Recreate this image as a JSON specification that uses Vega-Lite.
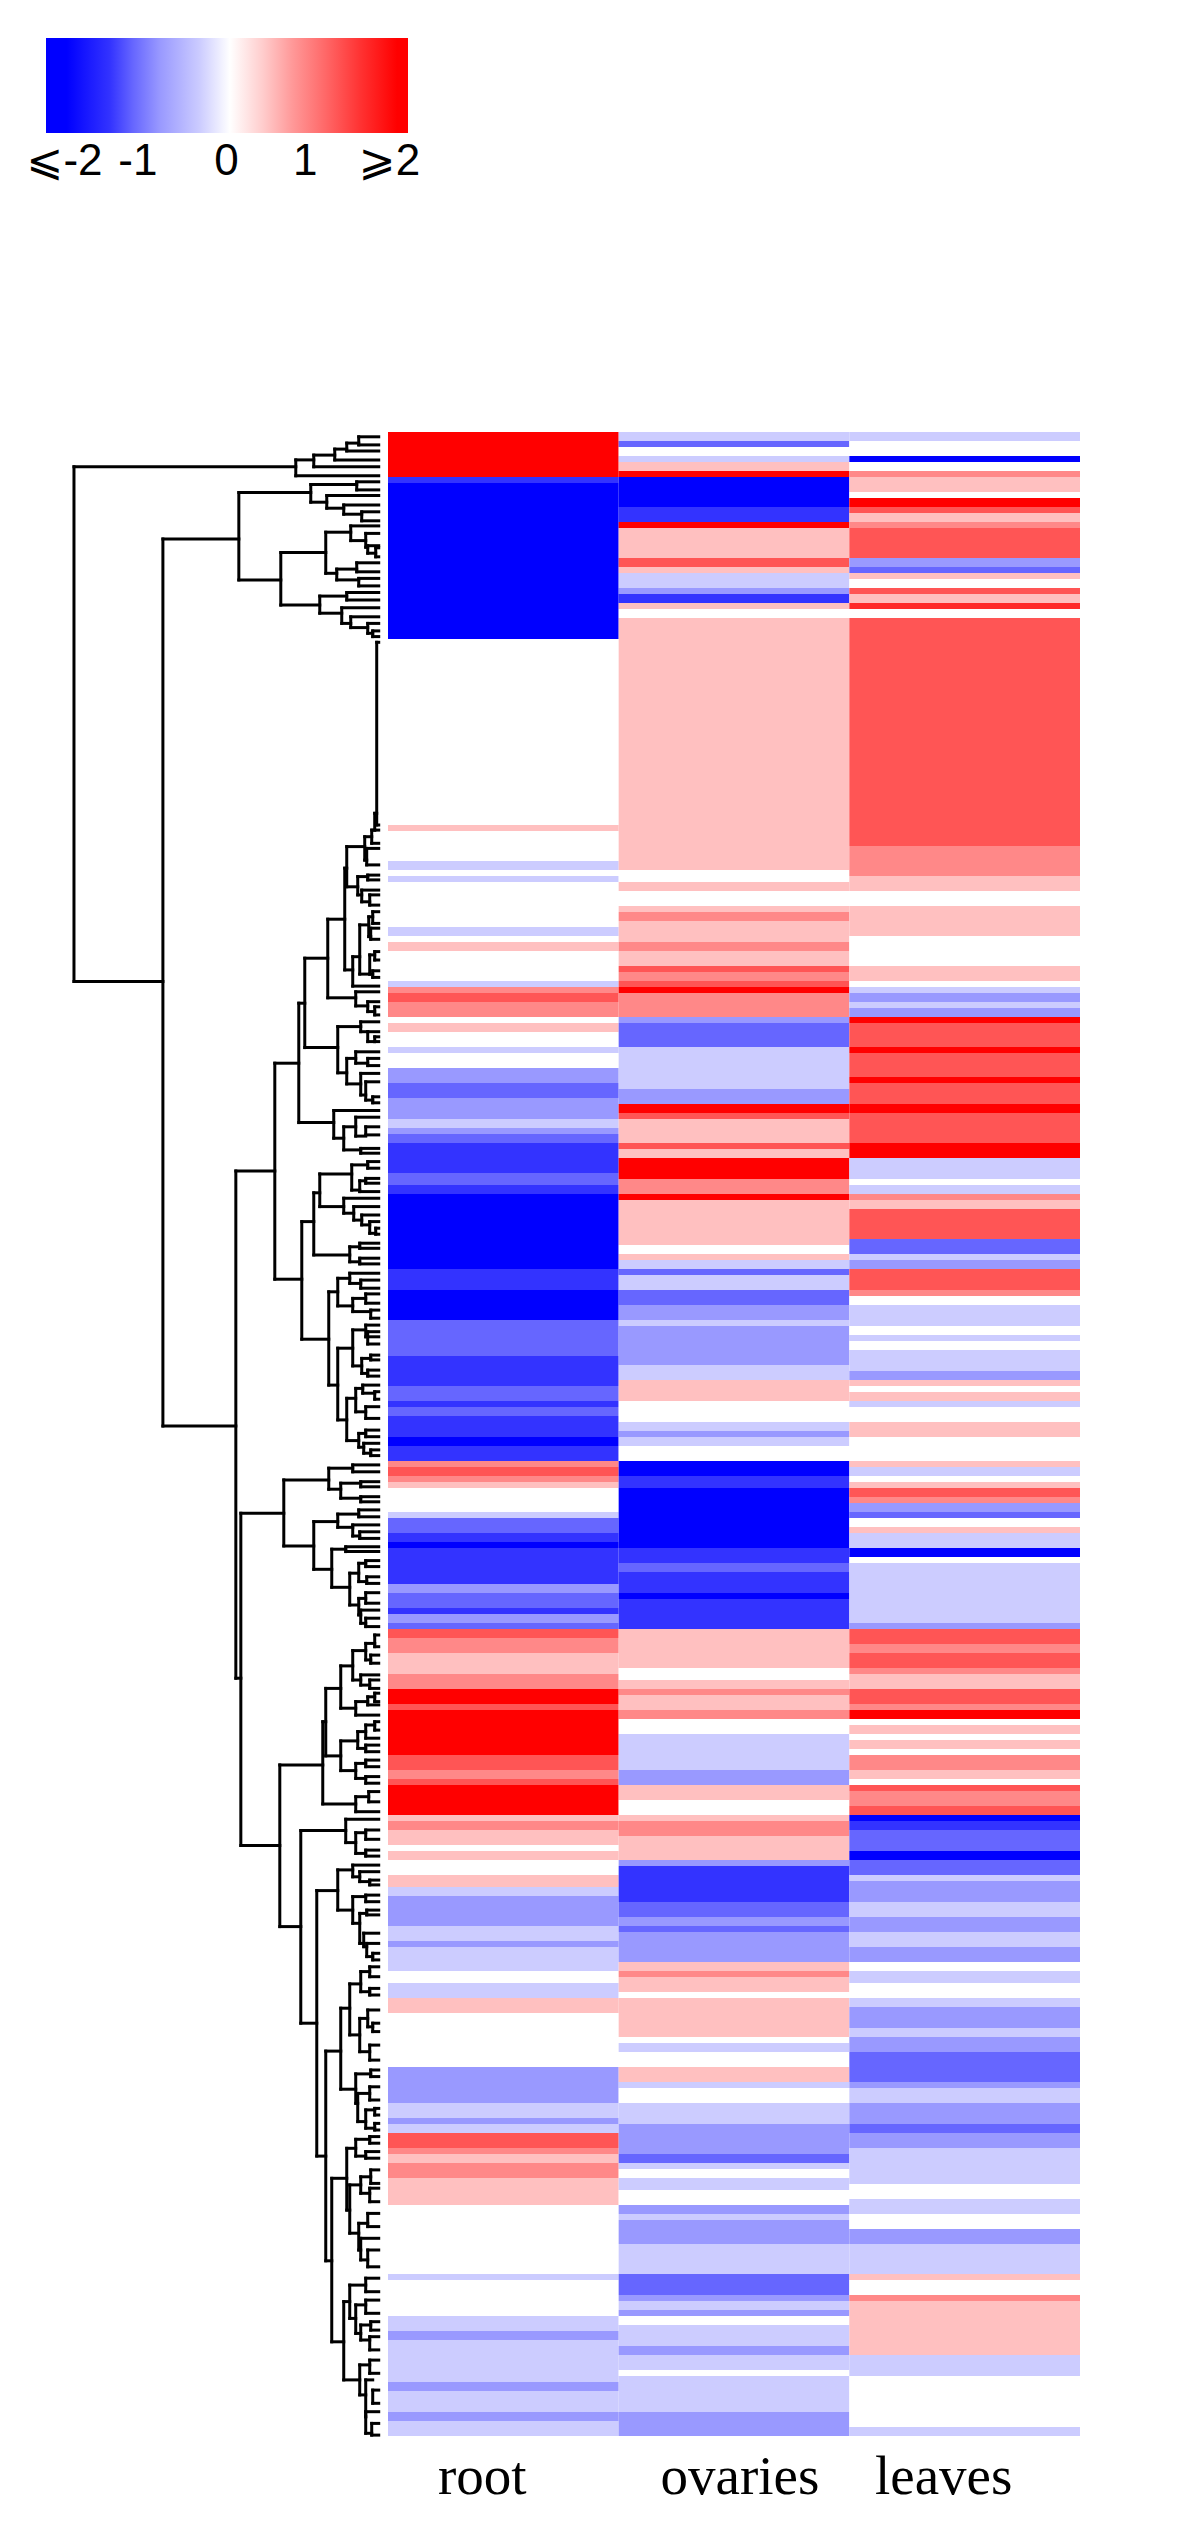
{"$schema":"https://vega.github.io/schema/vega-lite/v6.json","background":"white","padding":{"left":26,"top":38,"right":106,"bottom":20},"autosize":{"type":"pad"},"config":{"view":{"stroke":null}},"bounds":"flush","spacing":299,"vconcat":[{"width":362,"height":95,"data":{"values":[{"low":-2,"high":2}]},"mark":{"type":"rect","fill":{"gradient":"linear","x1":0,"x2":1,"y1":0,"y2":0,"stops":[{"offset":0,"color":"#0000ff"},{"offset":0.057,"color":"#0000ff"},{"offset":0.177,"color":"#3333ff"},{"offset":0.24,"color":"#6666ff"},{"offset":0.315,"color":"#9999ff"},{"offset":0.425,"color":"#ccccff"},{"offset":0.508,"color":"#ffffff"},{"offset":0.6,"color":"#ffcccc"},{"offset":0.68,"color":"#ff9999"},{"offset":0.775,"color":"#ff6666"},{"offset":0.867,"color":"#ff3333"},{"offset":0.97,"color":"#ff0000"},{"offset":1,"color":"#ff0000"}]}},"encoding":{"x":{"field":"low","type":"quantitative","scale":{"domain":[-2,2],"nice":false},"axis":{"title":null,"domain":false,"ticks":false,"grid":false,"values":[-1.8,-0.99,-0.01,0.86,1.79],"labelExpr":"datum.value<-1.5?'⩽-2':datum.value<-0.5?'-1':datum.value<0.5?'0':datum.value<1.5?'1':'⩾2'","labelFont":"Liberation Sans, DejaVu Sans","labelFontSize":44,"labelColor":"#000000","labelPadding":6,"labelFlush":false,"labelOverlap":false,"labelBound":false}},"x2":{"field":"high"}}},{"bounds":"flush","spacing":0,"hconcat":[{"width":342,"height":2004,"data":{"name":"tree","values":[{"d":305,"ra":11.6,"rb":183.2,"da":83,"db":216},{"d":216,"ra":35.7,"rb":331.3,"da":140,"db":143},{"d":83,"ra":9.3,"rb":14.6,"da":65,"db":0},{"d":65,"ra":7.7,"rb":11.6,"da":44,"db":0},{"d":44,"ra":5.7,"rb":9.3,"da":32,"db":0},{"d":32,"ra":3.7,"rb":6.3,"da":20,"db":0},{"d":20,"ra":1.6,"rb":4.3,"da":0,"db":0},{"d":140,"ra":20.2,"rb":49.3,"da":68,"db":98},{"d":68,"ra":17.5,"rb":23.4,"da":22,"db":52},{"d":22,"ra":16.6,"rb":19.3,"da":0,"db":0},{"d":52,"ra":21.2,"rb":25.4,"da":0,"db":35},{"d":35,"ra":24.3,"rb":27.4,"da":0,"db":17},{"d":17,"ra":26.6,"rb":29.6,"da":0,"db":0},{"d":98,"ra":40.2,"rb":57.7,"da":53,"db":59},{"d":53,"ra":33.4,"rb":47.1,"da":28,"db":42},{"d":28,"ra":31.3,"rb":36.2,"da":0,"db":13},{"d":13,"ra":33.8,"rb":38.4,"da":0,"db":11},{"d":11,"ra":37.9,"rb":40.4,"da":0,"db":3},{"d":3,"ra":38.6,"rb":41.6,"da":0,"db":0},{"d":42,"ra":45.7,"rb":49.3,"da":22,"db":20},{"d":22,"ra":43.6,"rb":46.6,"da":0,"db":0},{"d":20,"ra":48.8,"rb":51.3,"da":0,"db":0},{"d":59,"ra":54.7,"rb":60.4,"da":32,"db":37},{"d":32,"ra":53.5,"rb":56,"da":0,"db":0},{"d":37,"ra":58.6,"rb":63.8,"da":0,"db":28},{"d":28,"ra":61.6,"rb":65.2,"da":0,"db":11},{"d":11,"ra":63.8,"rb":67.1,"da":0,"db":6},{"d":6,"ra":66.3,"rb":68.2,"da":0,"db":0},{"d":2,"ra":70.1,"rb":131,"da":0,"db":0},{"d":4,"ra":127.1,"rb":132.7,"da":2,"db":0},{"d":7,"ra":132.7,"rb":137.1,"da":4,"db":0},{"d":14,"ra":134.9,"rb":142.7,"da":7,"db":12},{"d":12,"ra":138.8,"rb":144.3,"da":0,"db":0},{"d":32,"ra":138.2,"rb":151.6,"da":14,"db":21},{"d":21,"ra":148.2,"rb":154.3,"da":11,"db":17},{"d":11,"ra":147.7,"rb":149.3,"da":0,"db":0},{"d":17,"ra":152.7,"rb":156.6,"da":0,"db":9},{"d":9,"ra":154.3,"rb":157.7,"da":0,"db":0},{"d":34,"ra":145.4,"rb":179.3,"da":32,"db":26},{"d":51,"ra":162.4,"rb":188.6,"da":34,"db":23},{"d":26,"ra":174.9,"rb":184.7,"da":19,"db":0},{"d":19,"ra":164.3,"rb":180.7,"da":10,"db":9},{"d":10,"ra":161.6,"rb":168.2,"da":6,"db":8},{"d":6,"ra":159.9,"rb":163.8,"da":0,"db":0},{"d":8,"ra":165.4,"rb":169.1,"da":0,"db":0},{"d":9,"ra":174.3,"rb":180.7,"da":4,"db":6},{"d":4,"ra":173.2,"rb":176,"da":0,"db":0},{"d":6,"ra":179.6,"rb":181.8,"da":0,"db":0},{"d":23,"ra":186.6,"rb":191.3,"da":0,"db":11},{"d":11,"ra":189.9,"rb":193.2,"da":0,"db":4},{"d":4,"ra":191.6,"rb":194.3,"da":0,"db":0},{"d":74,"ra":175.4,"rb":205.2,"da":51,"db":41},{"d":41,"ra":198.2,"rb":213.6,"da":18,"db":32},{"d":18,"ra":196.6,"rb":199.9,"da":0,"db":11},{"d":11,"ra":199.9,"rb":203.2,"da":0,"db":4},{"d":4,"ra":201.6,"rb":203.2,"da":0,"db":0},{"d":32,"ra":208.8,"rb":217.3,"da":23,"db":18},{"d":23,"ra":206.6,"rb":210.4,"da":0,"db":11},{"d":11,"ra":208.8,"rb":211.2,"da":0,"db":0},{"d":18,"ra":213.8,"rb":221,"da":0,"db":13},{"d":13,"ra":216.6,"rb":222.7,"da":0,"db":6},{"d":6,"ra":221.6,"rb":223.6,"da":0,"db":0},{"d":80,"ra":190.4,"rb":230.2,"da":74,"db":45},{"d":45,"ra":226.2,"rb":235.4,"da":0,"db":35},{"d":35,"ra":231.6,"rb":239.3,"da":23,"db":18},{"d":23,"ra":228.4,"rb":234.7,"da":0,"db":13},{"d":13,"ra":231.6,"rb":234.3,"da":0,"db":0},{"d":18,"ra":238.8,"rb":240.4,"da":0,"db":0},{"d":104,"ra":210.4,"rb":282.4,"da":80,"db":77},{"d":143,"ra":246.3,"rb":415.4,"da":104,"db":138},{"d":77,"ra":263.2,"rb":302.4,"da":65,"db":50},{"d":65,"ra":253.6,"rb":274.3,"da":59,"db":29},{"d":59,"ra":247.3,"rb":258.2,"da":27,"db":35},{"d":27,"ra":244.3,"rb":252.7,"da":11,"db":19},{"d":11,"ra":243.2,"rb":245.4,"da":0,"db":0},{"d":19,"ra":249.6,"rb":253.2,"da":13,"db":0},{"d":13,"ra":248.8,"rb":250.4,"da":0,"db":0},{"d":35,"ra":255.4,"rb":260.4,"da":0,"db":25},{"d":25,"ra":258.2,"rb":262.7,"da":0,"db":17},{"d":17,"ra":261,"rb":264.3,"da":0,"db":9},{"d":9,"ra":263.2,"rb":267.1,"da":0,"db":3},{"d":3,"ra":265.4,"rb":267.4,"da":0,"db":0},{"d":29,"ra":271.6,"rb":276.6,"da":19,"db":19},{"d":19,"ra":270.4,"rb":272.1,"da":0,"db":0},{"d":19,"ra":275.4,"rb":277.3,"da":0,"db":0},{"d":50,"ra":286.6,"rb":317.7,"da":41,"db":41},{"d":41,"ra":282.1,"rb":291.3,"da":29,"db":26},{"d":29,"ra":280.4,"rb":283.8,"da":0,"db":18},{"d":18,"ra":282.7,"rb":285.4,"da":0,"db":0},{"d":26,"ra":288.8,"rb":293.2,"da":13,"db":8},{"d":13,"ra":287.3,"rb":290.4,"da":0,"db":0},{"d":8,"ra":292.7,"rb":295.4,"da":0,"db":0},{"d":41,"ra":305.4,"rb":329.3,"da":26,"db":32},{"d":26,"ra":299.3,"rb":311.3,"da":13,"db":17},{"d":13,"ra":297.7,"rb":301.6,"da":0,"db":0},{"d":11,"ra":299.9,"rb":304,"da":0,"db":0},{"d":17,"ra":308.8,"rb":313.8,"da":8,"db":11},{"d":8,"ra":307.7,"rb":309.3,"da":0,"db":0},{"d":11,"ra":312.7,"rb":314.7,"da":0,"db":0},{"d":32,"ra":322.1,"rb":336.2,"da":23,"db":20},{"d":23,"ra":318.8,"rb":326.6,"da":16,"db":13},{"d":16,"ra":317.7,"rb":320.4,"da":0,"db":4},{"d":4,"ra":319.9,"rb":322.4,"da":0,"db":0},{"d":13,"ra":324.9,"rb":328.8,"da":0,"db":0},{"d":20,"ra":333.8,"rb":338.4,"da":13,"db":15},{"d":13,"ra":332.7,"rb":334.9,"da":0,"db":0},{"d":15,"ra":337.1,"rb":340.4,"da":0,"db":8},{"d":8,"ra":339.3,"rb":341.2,"da":0,"db":0},{"d":95,"ra":349.3,"rb":371.3,"da":50,"db":65},{"d":50,"ra":345.4,"rb":352.4,"da":26,"db":38},{"d":26,"ra":344.3,"rb":346.6,"da":0,"db":0},{"d":38,"ra":350.4,"rb":355.4,"da":18,"db":18},{"d":18,"ra":349.9,"rb":351.6,"da":0,"db":0},{"d":18,"ra":354.9,"rb":356.6,"da":0,"db":0},{"d":65,"ra":363.2,"rb":379.1,"da":41,"db":47},{"d":41,"ra":360.7,"rb":365.1,"da":20,"db":26},{"d":20,"ra":359.3,"rb":361.6,"da":0,"db":0},{"d":26,"ra":364.3,"rb":368,"da":0,"db":19},{"d":19,"ra":366.6,"rb":368.8,"da":0,"db":0},{"d":47,"ra":372.4,"rb":385.1,"da":33,"db":29},{"d":33,"ra":371.6,"rb":373.2,"da":0,"db":0},{"d":29,"ra":380.4,"rb":391,"da":20,"db":20},{"d":20,"ra":377.1,"rb":383.2,"da":13,"db":12},{"d":13,"ra":376.2,"rb":378.2,"da":0,"db":0},{"d":12,"ra":381.6,"rb":383.8,"da":0,"db":0},{"d":20,"ra":388.8,"rb":394.3,"da":13,"db":18},{"d":13,"ra":386.9,"rb":390.4,"da":0,"db":0},{"d":18,"ra":392.7,"rb":397.1,"da":0,"db":13},{"d":13,"ra":395.4,"rb":398.2,"da":0,"db":0},{"d":138,"ra":360.4,"rb":471.2,"da":95,"db":99},{"d":38,"ra":411.3,"rb":425.4,"da":26,"db":23},{"d":26,"ra":406.2,"rb":416,"da":13,"db":18},{"d":13,"ra":403.8,"rb":409.3,"da":4,"db":8},{"d":4,"ra":401,"rb":404.9,"da":0,"db":0},{"d":8,"ra":407.7,"rb":410.4,"da":0,"db":0},{"d":18,"ra":414.3,"rb":417.7,"da":0,"db":9},{"d":9,"ra":416,"rb":418.8,"da":0,"db":0},{"d":23,"ra":423.2,"rb":427.7,"da":11,"db":0},{"d":11,"ra":421.6,"rb":424.3,"da":4,"db":0},{"d":4,"ra":420.4,"rb":423.2,"da":0,"db":0},{"d":38,"ra":436.3,"rb":446.2,"da":21,"db":23},{"d":21,"ra":433.2,"rb":438.8,"da":13,"db":13},{"d":13,"ra":431,"rb":435.4,"da":4,"db":0},{"d":4,"ra":429.9,"rb":432.7,"da":0,"db":0},{"d":13,"ra":437.7,"rb":439.9,"da":0,"db":0},{"d":23,"ra":443.8,"rb":448.8,"da":13,"db":13},{"d":13,"ra":442.7,"rb":444.9,"da":0,"db":0},{"d":13,"ra":448.2,"rb":450.4,"da":0,"db":0},{"d":53,"ra":418.8,"rb":441.3,"da":38,"db":38},{"d":56,"ra":429.9,"rb":457.3,"da":53,"db":23},{"d":23,"ra":454.9,"rb":459.9,"da":10,"db":0},{"d":10,"ra":453.2,"rb":456.6,"da":0,"db":0},{"d":99,"ra":444.3,"rb":498.2,"da":56,"db":78},{"d":78,"ra":466.2,"rb":530.4,"da":33,"db":62},{"d":33,"ra":462.4,"rb":470.2,"da":0,"db":23},{"d":23,"ra":466.9,"rb":473.8,"da":13,"db":13},{"d":13,"ra":466,"rb":469.1,"da":0,"db":0},{"d":13,"ra":472.7,"rb":474.7,"da":0,"db":0},{"d":62,"ra":486.2,"rb":574.7,"da":41,"db":53},{"d":41,"ra":479.3,"rb":492.7,"da":26,"db":26},{"d":26,"ra":477.7,"rb":481.6,"da":0,"db":19},{"d":19,"ra":479.9,"rb":483.2,"da":0,"db":9},{"d":9,"ra":482.7,"rb":484.3,"da":0,"db":0},{"d":26,"ra":488.2,"rb":497.1,"da":13,"db":19},{"d":13,"ra":487.7,"rb":489.9,"da":0,"db":0},{"d":19,"ra":493.8,"rb":503.8,"da":12,"db":15},{"d":12,"ra":492.7,"rb":494.3,"da":0,"db":0},{"d":15,"ra":500.4,"rb":504.9,"da":0,"db":12},{"d":12,"ra":503.8,"rb":508.2,"da":0,"db":6},{"d":6,"ra":507.1,"rb":509.3,"da":0,"db":0},{"d":38,"ra":525.4,"rb":552.4,"da":29,"db":23},{"d":29,"ra":517.3,"rb":534.3,"da":18,"db":19},{"d":18,"ra":513.2,"rb":519.9,"da":9,"db":9},{"d":9,"ra":511.6,"rb":514.9,"da":0,"db":0},{"d":9,"ra":518.8,"rb":521,"da":0,"db":0},{"d":19,"ra":528.8,"rb":539.9,"da":11,"db":9},{"d":11,"ra":526,"rb":531.6,"da":0,"db":6},{"d":6,"ra":530.4,"rb":533.2,"da":0,"db":0},{"d":9,"ra":537.7,"rb":542.7,"da":0,"db":0},{"d":53,"ra":539.7,"rb":609.6,"da":38,"db":47},{"d":23,"ra":547.3,"rb":557.1,"da":8,"db":21},{"d":8,"ra":546,"rb":548.2,"da":0,"db":0},{"d":21,"ra":553.8,"rb":563.2,"da":9,"db":13},{"d":9,"ra":551.6,"rb":556,"da":0,"db":0},{"d":13,"ra":559.3,"rb":565.4,"da":4,"db":4},{"d":4,"ra":558.8,"rb":561,"da":0,"db":0},{"d":4,"ra":563.8,"rb":566,"da":0,"db":0},{"d":47,"ra":582.1,"rb":636.6,"da":32,"db":35},{"d":32,"ra":572.1,"rb":592.7,"da":23,"db":29},{"d":23,"ra":569.1,"rb":574.7,"da":9,"db":13},{"d":9,"ra":568.2,"rb":570.4,"da":0,"db":0},{"d":13,"ra":573.2,"rb":575.4,"da":0,"db":0},{"d":29,"ra":584.3,"rb":600.4,"da":18,"db":20},{"d":18,"ra":581.6,"rb":587.1,"da":8,"db":9},{"d":8,"ra":579.3,"rb":583.8,"da":0,"db":0},{"d":9,"ra":585.4,"rb":589.9,"da":0,"db":0},{"d":20,"ra":597.1,"rb":606,"da":11,"db":18},{"d":11,"ra":593.8,"rb":598.2,"da":0,"db":0},{"d":18,"ra":602.1,"rb":609.3,"da":0,"db":11},{"d":11,"ra":606,"rb":611.6,"da":0,"db":0},{"d":35,"ra":623.2,"rb":649.3,"da":29,"db":19},{"d":29,"ra":617.7,"rb":628.8,"da":13,"db":23},{"d":13,"ra":615.4,"rb":619.9,"da":0,"db":0},{"d":23,"ra":624.3,"rb":633.8,"da":13,"db":18},{"d":13,"ra":622.7,"rb":627.1,"da":0,"db":0},{"d":18,"ra":631,"rb":636,"da":8,"db":9},{"d":8,"ra":629.9,"rb":632.7,"da":0,"db":0},{"d":9,"ra":634.9,"rb":639.3,"da":0,"db":0},{"d":19,"ra":644.3,"rb":654.3,"da":9,"db":13},{"d":9,"ra":642.7,"rb":647.1,"da":0,"db":0},{"d":13,"ra":649.3,"rb":661.6,"da":6,"db":13},{"d":6,"ra":652.7,"rb":657.1,"da":0,"db":0},{"d":13,"ra":659.9,"rb":667.1,"da":0,"db":7},{"d":7,"ra":663.8,"rb":667.7,"da":0,"db":0}]},"layer":[{"mark":{"type":"rule","color":"#000000","strokeWidth":3,"strokeCap":"square"},"encoding":{"x":{"field":"d","type":"quantitative","scale":{"domain":[333,-9.3],"nice":false,"zero":false},"axis":null},"y":{"field":"ra","type":"quantitative","scale":{"domain":[0,668],"reverse":true,"nice":false},"axis":null},"y2":{"field":"rb"}}},{"mark":{"type":"rule","color":"#000000","strokeWidth":3,"strokeCap":"square"},"encoding":{"x":{"field":"d","type":"quantitative","scale":{"domain":[333,-9.3],"nice":false,"zero":false},"axis":null},"x2":{"field":"da"},"y":{"field":"ra","type":"quantitative","scale":{"domain":[0,668],"reverse":true,"nice":false},"axis":null}}},{"mark":{"type":"rule","color":"#000000","strokeWidth":3,"strokeCap":"square"},"encoding":{"x":{"field":"d","type":"quantitative","scale":{"domain":[333,-9.3],"nice":false,"zero":false},"axis":null},"x2":{"field":"db"},"y":{"field":"rb","type":"quantitative","scale":{"domain":[0,668],"reverse":true,"nice":false},"axis":null}}}]},{"width":692,"height":2004,"data":{"name":"cells","values":[{"t":"root","a":0,"b":15,"z":2},{"t":"root","a":15,"b":17,"z":-1.6},{"t":"root","a":17,"b":69,"z":-2},{"t":"root","a":69,"b":131,"z":0},{"t":"root","a":131,"b":133,"z":0.4},{"t":"root","a":133,"b":143,"z":0},{"t":"root","a":143,"b":146,"z":-0.4},{"t":"root","a":146,"b":148,"z":0},{"t":"root","a":148,"b":150,"z":-0.4},{"t":"root","a":150,"b":165,"z":0},{"t":"root","a":165,"b":168,"z":-0.4},{"t":"root","a":168,"b":170,"z":0},{"t":"root","a":170,"b":173,"z":0.4},{"t":"root","a":173,"b":183,"z":0},{"t":"root","a":183,"b":185,"z":-0.4},{"t":"root","a":185,"b":187,"z":0.8},{"t":"root","a":187,"b":190,"z":1.2},{"t":"root","a":190,"b":195,"z":0.8},{"t":"root","a":195,"b":197,"z":0},{"t":"root","a":197,"b":200,"z":0.4},{"t":"root","a":200,"b":205,"z":0},{"t":"root","a":205,"b":207,"z":-0.4},{"t":"root","a":207,"b":212,"z":0},{"t":"root","a":212,"b":217,"z":-0.8},{"t":"root","a":217,"b":222,"z":-1.2},{"t":"root","a":222,"b":229,"z":-0.8},{"t":"root","a":229,"b":232,"z":-0.4},{"t":"root","a":232,"b":234,"z":-0.8},{"t":"root","a":234,"b":237,"z":-1.2},{"t":"root","a":237,"b":247,"z":-1.6},{"t":"root","a":247,"b":251,"z":-1.2},{"t":"root","a":251,"b":254,"z":-1.6},{"t":"root","a":254,"b":279,"z":-2},{"t":"root","a":279,"b":286,"z":-1.6},{"t":"root","a":286,"b":296,"z":-2},{"t":"root","a":296,"b":308,"z":-1.2},{"t":"root","a":308,"b":318,"z":-1.6},{"t":"root","a":318,"b":323,"z":-1.2},{"t":"root","a":323,"b":325,"z":-1.6},{"t":"root","a":325,"b":328,"z":-1.2},{"t":"root","a":328,"b":335,"z":-1.6},{"t":"root","a":335,"b":338,"z":-2},{"t":"root","a":338,"b":343,"z":-1.6},{"t":"root","a":343,"b":345,"z":0.8},{"t":"root","a":345,"b":348,"z":1.2},{"t":"root","a":348,"b":350,"z":0.8},{"t":"root","a":350,"b":352,"z":0.4},{"t":"root","a":352,"b":360,"z":0},{"t":"root","a":360,"b":362,"z":-0.4},{"t":"root","a":362,"b":367,"z":-1.2},{"t":"root","a":367,"b":370,"z":-1.6},{"t":"root","a":370,"b":372,"z":-2},{"t":"root","a":372,"b":384,"z":-1.6},{"t":"root","a":384,"b":387,"z":-0.8},{"t":"root","a":387,"b":392,"z":-1.2},{"t":"root","a":392,"b":394,"z":-1.6},{"t":"root","a":394,"b":397,"z":-0.8},{"t":"root","a":397,"b":399,"z":-1.2},{"t":"root","a":399,"b":402,"z":1.2},{"t":"root","a":402,"b":407,"z":0.8},{"t":"root","a":407,"b":414,"z":0.4},{"t":"root","a":414,"b":419,"z":0.8},{"t":"root","a":419,"b":424,"z":2},{"t":"root","a":424,"b":426,"z":1.2},{"t":"root","a":426,"b":441,"z":2},{"t":"root","a":441,"b":446,"z":1.2},{"t":"root","a":446,"b":449,"z":0.8},{"t":"root","a":449,"b":451,"z":1.2},{"t":"root","a":451,"b":461,"z":2},{"t":"root","a":461,"b":463,"z":0.4},{"t":"root","a":463,"b":466,"z":0.8},{"t":"root","a":466,"b":471,"z":0.4},{"t":"root","a":471,"b":473,"z":0},{"t":"root","a":473,"b":476,"z":0.4},{"t":"root","a":476,"b":481,"z":0},{"t":"root","a":481,"b":485,"z":0.4},{"t":"root","a":485,"b":488,"z":-0.4},{"t":"root","a":488,"b":498,"z":-0.8},{"t":"root","a":498,"b":503,"z":-0.4},{"t":"root","a":503,"b":505,"z":-0.8},{"t":"root","a":505,"b":513,"z":-0.4},{"t":"root","a":513,"b":517,"z":0},{"t":"root","a":517,"b":522,"z":-0.4},{"t":"root","a":522,"b":527,"z":0.4},{"t":"root","a":527,"b":545,"z":0},{"t":"root","a":545,"b":557,"z":-0.8},{"t":"root","a":557,"b":562,"z":-0.4},{"t":"root","a":562,"b":564,"z":-0.8},{"t":"root","a":564,"b":567,"z":-0.4},{"t":"root","a":567,"b":572,"z":1.2},{"t":"root","a":572,"b":574,"z":0.8},{"t":"root","a":574,"b":577,"z":0.4},{"t":"root","a":577,"b":582,"z":0.8},{"t":"root","a":582,"b":591,"z":0.4},{"t":"root","a":591,"b":614,"z":0},{"t":"root","a":614,"b":616,"z":-0.4},{"t":"root","a":616,"b":628,"z":0},{"t":"root","a":628,"b":633,"z":-0.4},{"t":"root","a":633,"b":636,"z":-0.8},{"t":"root","a":636,"b":650,"z":-0.4},{"t":"root","a":650,"b":653,"z":-0.8},{"t":"root","a":653,"b":660,"z":-0.4},{"t":"root","a":660,"b":663,"z":-0.8},{"t":"root","a":663,"b":668,"z":-0.4},{"t":"ovaries","a":0,"b":3,"z":-0.4},{"t":"ovaries","a":3,"b":5,"z":-1.2},{"t":"ovaries","a":5,"b":8,"z":0},{"t":"ovaries","a":8,"b":10,"z":-0.4},{"t":"ovaries","a":10,"b":13,"z":0.4},{"t":"ovaries","a":13,"b":15,"z":2},{"t":"ovaries","a":15,"b":25,"z":-2},{"t":"ovaries","a":25,"b":30,"z":-1.6},{"t":"ovaries","a":30,"b":32,"z":2},{"t":"ovaries","a":32,"b":42,"z":0.4},{"t":"ovaries","a":42,"b":45,"z":1.2},{"t":"ovaries","a":45,"b":47,"z":0.4},{"t":"ovaries","a":47,"b":52,"z":-0.4},{"t":"ovaries","a":52,"b":54,"z":-0.8},{"t":"ovaries","a":54,"b":57,"z":-1.6},{"t":"ovaries","a":57,"b":59,"z":0.4},{"t":"ovaries","a":59,"b":62,"z":0},{"t":"ovaries","a":62,"b":146,"z":0.4},{"t":"ovaries","a":146,"b":150,"z":0},{"t":"ovaries","a":150,"b":153,"z":0.4},{"t":"ovaries","a":153,"b":158,"z":0},{"t":"ovaries","a":158,"b":160,"z":0.4},{"t":"ovaries","a":160,"b":163,"z":0.8},{"t":"ovaries","a":163,"b":170,"z":0.4},{"t":"ovaries","a":170,"b":173,"z":0.8},{"t":"ovaries","a":173,"b":178,"z":0.4},{"t":"ovaries","a":178,"b":180,"z":1.2},{"t":"ovaries","a":180,"b":183,"z":0.8},{"t":"ovaries","a":183,"b":185,"z":1.2},{"t":"ovaries","a":185,"b":187,"z":2},{"t":"ovaries","a":187,"b":195,"z":0.8},{"t":"ovaries","a":195,"b":197,"z":-0.8},{"t":"ovaries","a":197,"b":205,"z":-1.2},{"t":"ovaries","a":205,"b":219,"z":-0.4},{"t":"ovaries","a":219,"b":224,"z":-0.8},{"t":"ovaries","a":224,"b":227,"z":2},{"t":"ovaries","a":227,"b":229,"z":1.2},{"t":"ovaries","a":229,"b":237,"z":0.4},{"t":"ovaries","a":237,"b":239,"z":1.2},{"t":"ovaries","a":239,"b":242,"z":0.4},{"t":"ovaries","a":242,"b":249,"z":2},{"t":"ovaries","a":249,"b":254,"z":0.8},{"t":"ovaries","a":254,"b":256,"z":2},{"t":"ovaries","a":256,"b":271,"z":0.4},{"t":"ovaries","a":271,"b":274,"z":0},{"t":"ovaries","a":274,"b":276,"z":0.4},{"t":"ovaries","a":276,"b":279,"z":-0.4},{"t":"ovaries","a":279,"b":281,"z":-1.2},{"t":"ovaries","a":281,"b":286,"z":-0.4},{"t":"ovaries","a":286,"b":291,"z":-1.2},{"t":"ovaries","a":291,"b":296,"z":-0.8},{"t":"ovaries","a":296,"b":298,"z":-0.4},{"t":"ovaries","a":298,"b":311,"z":-0.8},{"t":"ovaries","a":311,"b":316,"z":-0.4},{"t":"ovaries","a":316,"b":323,"z":0.4},{"t":"ovaries","a":323,"b":330,"z":0},{"t":"ovaries","a":330,"b":333,"z":-0.4},{"t":"ovaries","a":333,"b":335,"z":-0.8},{"t":"ovaries","a":335,"b":338,"z":-0.4},{"t":"ovaries","a":338,"b":343,"z":0},{"t":"ovaries","a":343,"b":348,"z":-2},{"t":"ovaries","a":348,"b":352,"z":-1.6},{"t":"ovaries","a":352,"b":372,"z":-2},{"t":"ovaries","a":372,"b":377,"z":-1.6},{"t":"ovaries","a":377,"b":380,"z":-1.2},{"t":"ovaries","a":380,"b":387,"z":-1.6},{"t":"ovaries","a":387,"b":389,"z":-2},{"t":"ovaries","a":389,"b":399,"z":-1.6},{"t":"ovaries","a":399,"b":412,"z":0.4},{"t":"ovaries","a":412,"b":416,"z":0},{"t":"ovaries","a":416,"b":419,"z":0.4},{"t":"ovaries","a":419,"b":421,"z":0.8},{"t":"ovaries","a":421,"b":426,"z":0.4},{"t":"ovaries","a":426,"b":429,"z":0.8},{"t":"ovaries","a":429,"b":434,"z":0},{"t":"ovaries","a":434,"b":446,"z":-0.4},{"t":"ovaries","a":446,"b":451,"z":-0.8},{"t":"ovaries","a":451,"b":456,"z":0.4},{"t":"ovaries","a":456,"b":461,"z":0},{"t":"ovaries","a":461,"b":463,"z":0.4},{"t":"ovaries","a":463,"b":468,"z":0.8},{"t":"ovaries","a":468,"b":476,"z":0.4},{"t":"ovaries","a":476,"b":478,"z":-0.8},{"t":"ovaries","a":478,"b":490,"z":-1.6},{"t":"ovaries","a":490,"b":495,"z":-1.2},{"t":"ovaries","a":495,"b":498,"z":-0.8},{"t":"ovaries","a":498,"b":500,"z":-1.2},{"t":"ovaries","a":500,"b":510,"z":-0.8},{"t":"ovaries","a":510,"b":513,"z":0.4},{"t":"ovaries","a":513,"b":515,"z":0.8},{"t":"ovaries","a":515,"b":520,"z":0.4},{"t":"ovaries","a":520,"b":522,"z":0},{"t":"ovaries","a":522,"b":535,"z":0.4},{"t":"ovaries","a":535,"b":537,"z":0},{"t":"ovaries","a":537,"b":540,"z":-0.4},{"t":"ovaries","a":540,"b":545,"z":0},{"t":"ovaries","a":545,"b":550,"z":0.4},{"t":"ovaries","a":550,"b":552,"z":-0.4},{"t":"ovaries","a":552,"b":557,"z":0},{"t":"ovaries","a":557,"b":564,"z":-0.4},{"t":"ovaries","a":564,"b":574,"z":-0.8},{"t":"ovaries","a":574,"b":577,"z":-1.2},{"t":"ovaries","a":577,"b":579,"z":-0.4},{"t":"ovaries","a":579,"b":582,"z":0},{"t":"ovaries","a":582,"b":586,"z":-0.4},{"t":"ovaries","a":586,"b":591,"z":0},{"t":"ovaries","a":591,"b":594,"z":-0.8},{"t":"ovaries","a":594,"b":596,"z":-0.4},{"t":"ovaries","a":596,"b":604,"z":-0.8},{"t":"ovaries","a":604,"b":614,"z":-0.4},{"t":"ovaries","a":614,"b":621,"z":-1.2},{"t":"ovaries","a":621,"b":623,"z":-0.8},{"t":"ovaries","a":623,"b":626,"z":-0.4},{"t":"ovaries","a":626,"b":628,"z":-0.8},{"t":"ovaries","a":628,"b":631,"z":0},{"t":"ovaries","a":631,"b":638,"z":-0.4},{"t":"ovaries","a":638,"b":641,"z":-0.8},{"t":"ovaries","a":641,"b":646,"z":-0.4},{"t":"ovaries","a":646,"b":648,"z":0},{"t":"ovaries","a":648,"b":660,"z":-0.4},{"t":"ovaries","a":660,"b":668,"z":-0.8},{"t":"leaves","a":0,"b":3,"z":-0.4},{"t":"leaves","a":3,"b":8,"z":0},{"t":"leaves","a":8,"b":10,"z":-2},{"t":"leaves","a":10,"b":13,"z":0},{"t":"leaves","a":13,"b":15,"z":0.8},{"t":"leaves","a":15,"b":20,"z":0.4},{"t":"leaves","a":20,"b":22,"z":0},{"t":"leaves","a":22,"b":25,"z":2},{"t":"leaves","a":25,"b":27,"z":1.2},{"t":"leaves","a":27,"b":30,"z":0.4},{"t":"leaves","a":30,"b":32,"z":0.8},{"t":"leaves","a":32,"b":42,"z":1.2},{"t":"leaves","a":42,"b":45,"z":-0.8},{"t":"leaves","a":45,"b":47,"z":-1.2},{"t":"leaves","a":47,"b":49,"z":0.4},{"t":"leaves","a":49,"b":52,"z":0},{"t":"leaves","a":52,"b":54,"z":1.2},{"t":"leaves","a":54,"b":57,"z":0.4},{"t":"leaves","a":57,"b":59,"z":1.6},{"t":"leaves","a":59,"b":62,"z":0},{"t":"leaves","a":62,"b":138,"z":1.2},{"t":"leaves","a":138,"b":148,"z":0.8},{"t":"leaves","a":148,"b":153,"z":0.4},{"t":"leaves","a":153,"b":158,"z":0},{"t":"leaves","a":158,"b":168,"z":0.4},{"t":"leaves","a":168,"b":178,"z":0},{"t":"leaves","a":178,"b":183,"z":0.4},{"t":"leaves","a":183,"b":185,"z":0},{"t":"leaves","a":185,"b":187,"z":-0.4},{"t":"leaves","a":187,"b":190,"z":-0.8},{"t":"leaves","a":190,"b":192,"z":-0.4},{"t":"leaves","a":192,"b":195,"z":-0.8},{"t":"leaves","a":195,"b":197,"z":2},{"t":"leaves","a":197,"b":205,"z":1.2},{"t":"leaves","a":205,"b":207,"z":2},{"t":"leaves","a":207,"b":215,"z":1.2},{"t":"leaves","a":215,"b":217,"z":2},{"t":"leaves","a":217,"b":224,"z":1.2},{"t":"leaves","a":224,"b":227,"z":2},{"t":"leaves","a":227,"b":237,"z":1.2},{"t":"leaves","a":237,"b":242,"z":2},{"t":"leaves","a":242,"b":249,"z":-0.4},{"t":"leaves","a":249,"b":251,"z":0},{"t":"leaves","a":251,"b":254,"z":-0.4},{"t":"leaves","a":254,"b":256,"z":0.8},{"t":"leaves","a":256,"b":259,"z":0.4},{"t":"leaves","a":259,"b":269,"z":1.2},{"t":"leaves","a":269,"b":274,"z":-1.2},{"t":"leaves","a":274,"b":276,"z":-0.4},{"t":"leaves","a":276,"b":279,"z":-0.8},{"t":"leaves","a":279,"b":286,"z":1.2},{"t":"leaves","a":286,"b":288,"z":0.8},{"t":"leaves","a":288,"b":291,"z":0},{"t":"leaves","a":291,"b":298,"z":-0.4},{"t":"leaves","a":298,"b":301,"z":0},{"t":"leaves","a":301,"b":303,"z":-0.4},{"t":"leaves","a":303,"b":306,"z":0},{"t":"leaves","a":306,"b":313,"z":-0.4},{"t":"leaves","a":313,"b":316,"z":-0.8},{"t":"leaves","a":316,"b":318,"z":0.4},{"t":"leaves","a":318,"b":320,"z":0},{"t":"leaves","a":320,"b":323,"z":0.4},{"t":"leaves","a":323,"b":325,"z":-0.4},{"t":"leaves","a":325,"b":330,"z":0},{"t":"leaves","a":330,"b":335,"z":0.4},{"t":"leaves","a":335,"b":343,"z":0},{"t":"leaves","a":343,"b":345,"z":0.4},{"t":"leaves","a":345,"b":348,"z":-0.4},{"t":"leaves","a":348,"b":350,"z":0},{"t":"leaves","a":350,"b":352,"z":0.4},{"t":"leaves","a":352,"b":355,"z":1.2},{"t":"leaves","a":355,"b":357,"z":0.8},{"t":"leaves","a":357,"b":360,"z":-0.8},{"t":"leaves","a":360,"b":362,"z":-1.2},{"t":"leaves","a":362,"b":365,"z":0},{"t":"leaves","a":365,"b":367,"z":0.4},{"t":"leaves","a":367,"b":372,"z":-0.4},{"t":"leaves","a":372,"b":375,"z":-2},{"t":"leaves","a":375,"b":377,"z":0},{"t":"leaves","a":377,"b":397,"z":-0.4},{"t":"leaves","a":397,"b":399,"z":-0.8},{"t":"leaves","a":399,"b":404,"z":1.2},{"t":"leaves","a":404,"b":407,"z":0.8},{"t":"leaves","a":407,"b":412,"z":1.2},{"t":"leaves","a":412,"b":414,"z":0.8},{"t":"leaves","a":414,"b":419,"z":0.4},{"t":"leaves","a":419,"b":424,"z":1.2},{"t":"leaves","a":424,"b":426,"z":0.8},{"t":"leaves","a":426,"b":429,"z":2},{"t":"leaves","a":429,"b":431,"z":0},{"t":"leaves","a":431,"b":434,"z":0.4},{"t":"leaves","a":434,"b":436,"z":0},{"t":"leaves","a":436,"b":439,"z":0.4},{"t":"leaves","a":439,"b":441,"z":0},{"t":"leaves","a":441,"b":446,"z":0.8},{"t":"leaves","a":446,"b":449,"z":0.4},{"t":"leaves","a":449,"b":451,"z":0},{"t":"leaves","a":451,"b":453,"z":1.2},{"t":"leaves","a":453,"b":458,"z":0.8},{"t":"leaves","a":458,"b":461,"z":1.2},{"t":"leaves","a":461,"b":463,"z":-2},{"t":"leaves","a":463,"b":466,"z":-1.6},{"t":"leaves","a":466,"b":473,"z":-1.2},{"t":"leaves","a":473,"b":476,"z":-2},{"t":"leaves","a":476,"b":481,"z":-1.2},{"t":"leaves","a":481,"b":483,"z":-0.4},{"t":"leaves","a":483,"b":490,"z":-0.8},{"t":"leaves","a":490,"b":495,"z":-0.4},{"t":"leaves","a":495,"b":500,"z":-0.8},{"t":"leaves","a":500,"b":505,"z":-0.4},{"t":"leaves","a":505,"b":510,"z":-0.8},{"t":"leaves","a":510,"b":513,"z":0},{"t":"leaves","a":513,"b":517,"z":-0.4},{"t":"leaves","a":517,"b":522,"z":0},{"t":"leaves","a":522,"b":525,"z":-0.4},{"t":"leaves","a":525,"b":532,"z":-0.8},{"t":"leaves","a":532,"b":535,"z":-0.4},{"t":"leaves","a":535,"b":540,"z":-0.8},{"t":"leaves","a":540,"b":550,"z":-1.2},{"t":"leaves","a":550,"b":552,"z":-0.8},{"t":"leaves","a":552,"b":557,"z":-0.4},{"t":"leaves","a":557,"b":564,"z":-0.8},{"t":"leaves","a":564,"b":567,"z":-1.2},{"t":"leaves","a":567,"b":572,"z":-0.8},{"t":"leaves","a":572,"b":584,"z":-0.4},{"t":"leaves","a":584,"b":589,"z":0},{"t":"leaves","a":589,"b":594,"z":-0.4},{"t":"leaves","a":594,"b":599,"z":0},{"t":"leaves","a":599,"b":604,"z":-0.8},{"t":"leaves","a":604,"b":614,"z":-0.4},{"t":"leaves","a":614,"b":616,"z":0.4},{"t":"leaves","a":616,"b":621,"z":0},{"t":"leaves","a":621,"b":623,"z":0.8},{"t":"leaves","a":623,"b":641,"z":0.4},{"t":"leaves","a":641,"b":648,"z":-0.4},{"t":"leaves","a":648,"b":665,"z":0},{"t":"leaves","a":665,"b":668,"z":-0.4}]},"mark":{"type":"rect"},"encoding":{"x":{"field":"t","type":"nominal","sort":["root","ovaries","leaves"],"scale":{"paddingInner":0,"paddingOuter":0},"axis":{"title":null,"domain":false,"ticks":false,"labelAngle":0,"labelFont":"Liberation Serif","labelFontSize":55,"labelColor":"#000000","labelPadding":14,"labelOffset":{"condition":{"test":"datum.value=='ovaries'","value":6},"value":-21}}},"y":{"field":"a","type":"quantitative","scale":{"domain":[0,668],"reverse":true,"nice":false},"axis":null},"y2":{"field":"b"},"color":{"field":"z","type":"ordinal","legend":null,"scale":{"domain":[-2,-1.6,-1.2,-0.8,-0.4,0,0.4,0.8,1.2,1.6,2],"range":["#0000ff","#3333ff","#6666ff","#9999ff","#ccccff","#ffffff","#ffc0c0","#ff8888","#ff5555","#ff2a2a","#ff0000"]}}}}]}]}
